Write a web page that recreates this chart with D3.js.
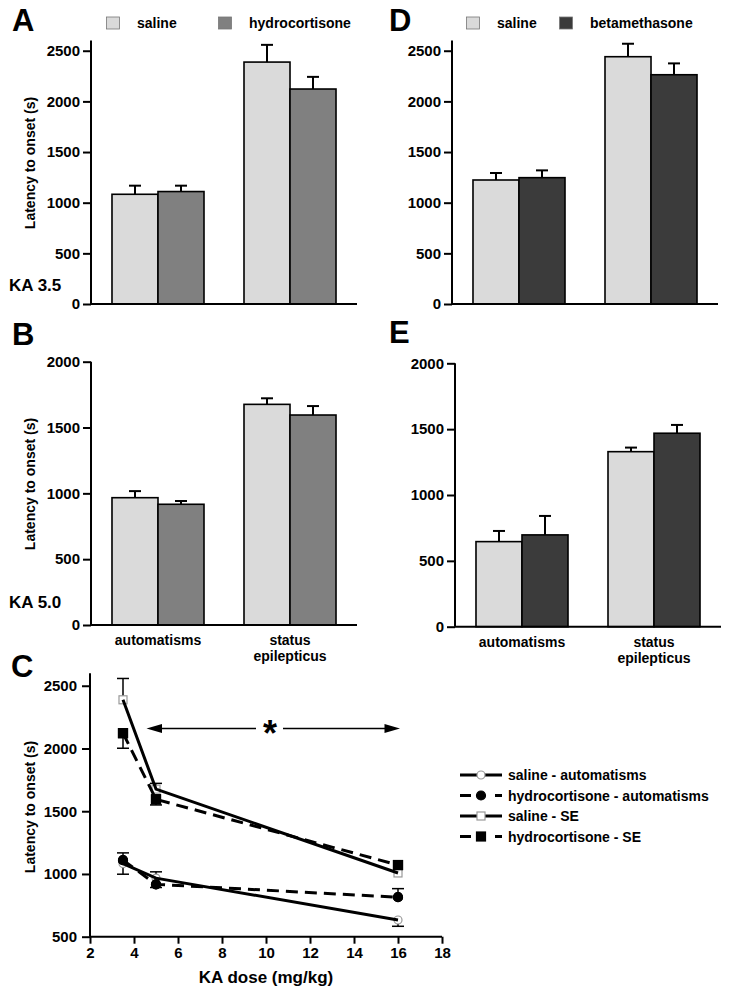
<!DOCTYPE html>
<html><head><meta charset="utf-8">
<script src="https://cdn.jsdelivr.net/npm/d3@7"></script>
<style>
body{margin:0;background:#fff;}
text{font-family:"Liberation Sans",Arial,Helvetica,sans-serif;font-weight:bold;fill:#000;}
</style></head>
<body><svg id="fig" width="729" height="996"></svg>
<script>
// ---------- data ----------
const categories = ["automatisms", "status epilepticus"];
const groupsHC = ["saline", "hydrocortisone"];
const groupsBM = ["saline", "betamethasone"];

// Panel A (KA 3.5, hydrocortisone)
const A_saline = [1083, 2388];
const A_saline_err = [85, 170];
const A_hc = [1110, 2122];
const A_hc_err = [58, 120];
// Panel B (KA 5.0, hydrocortisone)
const B_saline = [967, 1676];
const B_saline_err = [50, 46];
const B_hc = [917, 1595];
const B_hc_err = [25, 68];
// Panel D (KA 3.5, betamethasone)
const D_saline = [1224, 2441];
const D_saline_err = [69, 128];
const D_bm = [1247, 2263];
const D_bm_err = [72, 112];
// Panel E (KA 5.0, betamethasone)
const E_saline = [646, 1329];
const E_saline_err = [81, 31];
const E_bm = [697, 1469];
const E_bm_err = [144, 63];

const yTicksA = [0, 500, 1000, 1500, 2000, 2500];
const yTicksB = [0, 500, 1000, 1500, 2000];

// Panel C (dose-response)
const doses = [3.5, 5, 16];
const C_salineAuto = [1083, 967, 633];
const C_salineAuto_errUp = [85, 50, 0];
const C_salineAuto_errDn = [85, 0, 50];
const C_hcAuto = [1110, 917, 815];
const C_hcAuto_errUp = [0, 0, 68];
const C_hcAuto_errDn = [0, 25, 0];
const C_salineSE = [2388, 1676, 1008];
const C_salineSE_errUp = [170, 46, 0];
const C_salineSE_errDn = [0, 0, 0];
const C_hcSE = [2122, 1595, 1071];
const C_hcSE_errUp = [0, 0, 0];
const C_hcSE_errDn = [120, 45, 0];
const xTicksC = [2, 4, 6, 8, 10, 12, 14, 16, 18];
const yTicksC = [500, 1000, 1500, 2000, 2500];
const legendC = ["saline - automatisms", "hydrocortisone - automatisms", "saline - SE", "hydrocortisone - SE"];

const COL_SAL = "#dadada", COL_HC = "#808080", COL_BM = "#3b3b3b";
const FONT = "Liberation Sans, Arial, sans-serif";

const svg = d3.select("#fig");

function styleTicks(sel) {
  sel.selectAll(".tick line").attr("stroke-width", 2);
  sel.selectAll(".tick text").style("font-size", "15px").style("font-family", FONT).style("font-weight", "bold");
}

function barPanel(o) {
  const g = svg.append("g");
  const x0 = d3.scaleBand().domain(categories).range([o.ax, o.ax + 266]).paddingInner(0.303).paddingOuter(0.159);
  const x1 = d3.scaleBand().domain(o.groups).range([0, x0.bandwidth()]);
  const y = d3.scaleLinear().domain([0, o.ymax]).range([o.y0, o.ytop]);
  const colors = [COL_SAL, o.col2];
  const series = [o.s1, o.s2], errs = [o.e1, o.e2];

  o.groups.forEach((grp, gi) => {
    const rows = categories.map((c, ci) => ({c, v: series[gi][ci], e: errs[gi][ci]}));
    const cx = d => x0(d.c) + x1(grp) + x1.bandwidth() / 2;
    const eg = g.append("g");
    eg.selectAll("line.v").data(rows).join("line").attr("class", "v")
      .attr("x1", cx).attr("x2", cx)
      .attr("y1", d => y(d.v)).attr("y2", d => y(d.v + d.e))
      .attr("stroke", "#000").attr("stroke-width", 2);
    eg.selectAll("line.h").data(rows).join("line").attr("class", "h")
      .attr("x1", d => cx(d) - 6).attr("x2", d => cx(d) + 6)
      .attr("y1", d => y(d.v + d.e)).attr("y2", d => y(d.v + d.e))
      .attr("stroke", "#000").attr("stroke-width", 2);
    g.append("g").selectAll("rect").data(rows).join("rect")
      .attr("x", d => x0(d.c) + x1(grp))
      .attr("y", d => y(d.v))
      .attr("width", x1.bandwidth())
      .attr("height", d => y(0) - y(d.v))
      .attr("fill", colors[gi]).attr("stroke", "#000").attr("stroke-width", 1.6);
  });

  const ya = g.append("g").attr("transform", `translate(${o.ax},0)`)
    .call(d3.axisLeft(y).tickValues(o.ticks).tickSize(8).tickPadding(3).tickFormat(d3.format("d")));
  ya.select(".domain").remove();
  styleTicks(ya);
  g.append("line").attr("x1", o.ax).attr("x2", o.ax).attr("y1", y(0)).attr("y2", o.ytop)
    .attr("stroke", "#000").attr("stroke-width", 2);
  g.append("line").attr("x1", o.ax).attr("x2", o.ax + 266).attr("y1", y(0)).attr("y2", y(0))
    .attr("stroke", "#000").attr("stroke-width", 2);

  if (o.xlabels) {
    const c0 = x0(categories[0]) + x0.bandwidth() / 2, c1 = x0(categories[1]) + x0.bandwidth() / 2;
    g.append("text").attr("x", c0).attr("y", o.y0 + 20).attr("text-anchor", "middle").style("font-size", "14px").text("automatisms");
    g.append("text").attr("x", c1).attr("y", o.y0 + 20).attr("text-anchor", "middle").style("font-size", "14px").text("status");
    g.append("text").attr("x", c1).attr("y", o.y0 + 36).attr("text-anchor", "middle").style("font-size", "14px").text("epilepticus");
  }
  if (o.ylabel) {
    g.append("text").attr("transform", `translate(${o.ylx},${o.yly}) rotate(-90)`)
      .attr("text-anchor", "middle").style("font-size", "14px").text("Latency to onset (s)");
  }
  if (o.ka) {
    g.append("text").attr("x", 9).attr("y", o.kay).style("font-size", "17px").text(o.ka);
  }
  g.append("text").attr("x", o.lx).attr("y", o.ly).style("font-size", "31px").text(o.letter);

  if (o.legend) {
    o.groups.forEach((grp, gi) => {
      g.append("rect").attr("x", o.legend[gi][0]).attr("y", 17).attr("width", 13).attr("height", 12)
        .attr("fill", colors[gi]).attr("stroke", "#777").attr("stroke-width", 0.8);
      g.append("text").attr("x", o.legend[gi][1]).attr("y", 28).style("font-size", "14px").text(grp);
    });
  }
}

barPanel({ax: 91, y0: 304, ytop: 40.6, ymax: 2600, ticks: yTicksA, groups: groupsHC, col2: COL_HC,
  s1: A_saline, e1: A_saline_err, s2: A_hc, e2: A_hc_err, ylabel: true, ylx: 35, yly: 163,
  ka: "KA 3.5", kay: 291, letter: "A", lx: 12, ly: 31, legend: [[106.5, 137], [218.5, 249]]});
barPanel({ax: 452, y0: 304, ytop: 40.6, ymax: 2600, ticks: yTicksA, groups: groupsBM, col2: COL_BM,
  s1: D_saline, e1: D_saline_err, s2: D_bm, e2: D_bm_err,
  letter: "D", lx: 389, ly: 31, legend: [[466.5, 497], [559.5, 590]]});
barPanel({ax: 91, y0: 625, ytop: 361.7, ymax: 2000, ticks: yTicksB, groups: groupsHC, col2: COL_HC,
  s1: B_saline, e1: B_saline_err, s2: B_hc, e2: B_hc_err, ylabel: true, ylx: 35, yly: 484,
  ka: "KA 5.0", kay: 608, letter: "B", lx: 12, ly: 345, xlabels: true});
barPanel({ax: 455, y0: 626.7, ytop: 363.3, ymax: 2000, ticks: yTicksB, groups: groupsBM, col2: COL_BM,
  s1: E_saline, e1: E_saline_err, s2: E_bm, e2: E_bm_err,
  letter: "E", lx: 389, ly: 343, xlabels: true});

// ---------- Panel C ----------
(function () {
  const g = svg.append("g");
  const x = d3.scaleLinear().domain([2, 18]).range([90, 442]);
  const y = d3.scaleLinear().domain([500, 2600]).range([936.7, 673.2]);

  const xa = g.append("g").attr("transform", `translate(0,${y(500)})`)
    .call(d3.axisBottom(x).tickValues(xTicksC).tickSize(7).tickPadding(4).tickFormat(d3.format("d")));
  xa.select(".domain").attr("stroke-width", 2).attr("d", `M90,0H442`);
  styleTicks(xa);

  const ya = g.append("g").attr("transform", `translate(90,0)`)
    .call(d3.axisLeft(y).tickValues(yTicksC).tickSize(8).tickPadding(5).tickFormat(d3.format("d")));
  ya.select(".domain").remove();
  styleTicks(ya);
  g.append("line").attr("x1", 90).attr("x2", 90).attr("y1", y(500)).attr("y2", y(2600)).attr("stroke", "#000").attr("stroke-width", 2);

  const series = [
    {v: C_salineAuto, up: C_salineAuto_errUp, dn: C_salineAuto_errDn, dash: null, shape: "circle", filled: false},
    {v: C_hcAuto, up: C_hcAuto_errUp, dn: C_hcAuto_errDn, dash: "12,7", shape: "circle", filled: true},
    {v: C_salineSE, up: C_salineSE_errUp, dn: C_salineSE_errDn, dash: null, shape: "square", filled: false},
    {v: C_hcSE, up: C_hcSE_errUp, dn: C_hcSE_errDn, dash: "12,7", shape: "square", filled: true}
  ];
  const line = d3.line().x(d => x(d.d)).y(d => y(d.v));

  function marker(sel, s, cx, cy) {
    if (s.shape === "circle") {
      sel.append("circle").attr("cx", cx).attr("cy", cy).attr("r", s.filled ? 4.5 : 4)
        .attr("fill", s.filled ? "#000" : "#fff").attr("stroke", s.filled ? "#000" : "#999").attr("stroke-width", 1.2);
    } else {
      const h = s.filled ? 4.5 : 4;
      sel.append("rect").attr("x", cx - h).attr("y", cy - h).attr("width", 2 * h).attr("height", 2 * h)
        .attr("fill", s.filled ? "#000" : "#fff").attr("stroke", s.filled ? "#000" : "#999").attr("stroke-width", 1.2);
    }
  }

  series.forEach(s => {
    doses.forEach((d, i) => {
      [[s.up[i], 1], [s.dn[i], -1]].forEach(([e, sign]) => {
        if (!e) return;
        const yy = y(s.v[i] + sign * e);
        g.append("line").attr("x1", x(d)).attr("x2", x(d)).attr("y1", y(s.v[i])).attr("y2", yy).attr("stroke", "#000").attr("stroke-width", 1.5);
        g.append("line").attr("x1", x(d) - 6).attr("x2", x(d) + 6).attr("y1", yy).attr("y2", yy).attr("stroke", "#000").attr("stroke-width", 1.5);
      });
    });
  });
  series.forEach(s => {
    const mg = g.append("g");
    doses.forEach((d, i) => marker(mg, s, x(d), y(s.v[i])));
  });
  series.forEach(s => {
    const pts = doses.map((d, i) => ({d, v: s.v[i]}));
    g.append("path").datum(pts).attr("d", line).attr("fill", "none").attr("stroke", "#000")
      .attr("stroke-width", 3).attr("stroke-dasharray", s.dash);
  });
  series.filter(s => s.filled).forEach(s => {
    const mg = g.append("g");
    doses.forEach((d, i) => marker(mg, s, x(d), y(s.v[i])));
  });

  const ay = 728.5;
  g.append("line").attr("x1", 158).attr("x2", 256).attr("y1", ay).attr("y2", ay).attr("stroke", "#000").attr("stroke-width", 1.5);
  g.append("line").attr("x1", 283).attr("x2", 388).attr("y1", ay).attr("y2", ay).attr("stroke", "#000").attr("stroke-width", 1.5);
  g.append("path").attr("d", `M146.5,${ay}L162,${ay - 4.5}L162,${ay + 4.5}Z`).attr("fill", "#000");
  g.append("path").attr("d", `M400,${ay}L384.5,${ay - 4.5}L384.5,${ay + 4.5}Z`).attr("fill", "#000");
  g.append("text").attr("x", 270).attr("y", ay + 17).attr("text-anchor", "middle").style("font-size", "36px").text("*");

  g.append("text").attr("transform", `translate(35,807) rotate(-90)`).attr("text-anchor", "middle").style("font-size", "14px").text("Latency to onset (s)");
  g.append("text").attr("x", 266).attr("y", 983).attr("text-anchor", "middle").style("font-size", "17px").text("KA dose (mg/kg)");
  g.append("text").attr("x", 11).attr("y", 677).style("font-size", "31px").text("C");

  const ly = [775, 795.5, 816, 836.5];
  series.forEach((s, i) => {
    g.append("line").attr("x1", 460).attr("x2", 502).attr("y1", ly[i]).attr("y2", ly[i])
      .attr("stroke", "#000").attr("stroke-width", 3).attr("stroke-dasharray", s.dash ? "11,24,7" : null);
    marker(g, s, 481, ly[i]);
    g.append("text").attr("x", 508).attr("y", ly[i] + 5).style("font-size", "14px").text(legendC[i]);
  });
})();
</script></body></html>
